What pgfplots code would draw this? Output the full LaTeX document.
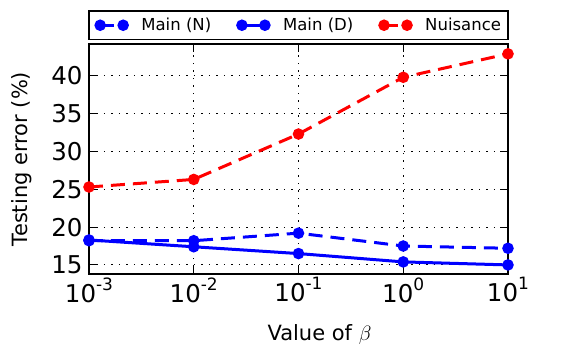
\documentclass[border=0pt]{standalone}
\usepackage{fontspec}
\setmainfont{DejaVu Sans}
\usepackage{pgfplots}
\pgfplotsset{compat=1.18}
\newcommand{\tp}[1]{10\raisebox{12pt}{\fontsize{17}{17}\selectfont #1}}
\begin{document}
\begin{tikzpicture}
\begin{axis}[
 scale only axis, width=419pt, height=230pt,
 xmode=log, log basis x=10,
 xmin=1e-3, xmax=10, ymin=13.8, ymax=44.2,
 xtick={1e-3,1e-2,1e-1,1,10},
 xticklabels={\tp{-3},\tp{-2},\tp{-1},\tp{0},\tp{1}},
 ytick={15,20,25,30,35,40},
 /pgf/number format/assume math mode=true,
 tick label style={font=\fontsize{24.5}{28}\selectfont},
 yticklabel style={xshift=-3pt},
 label style={font=\fontsize{21}{24}\selectfont},
 xlabel={Value of $\beta$},
 ylabel={Testing error (\%)},
 xlabel style={at={(axis description cs:0.55,-0.265)}, anchor=center},
 ylabel style={at={(axis description cs:-0.16,0.5)}, anchor=center},
 axis line style={line width=1.8pt},
 grid=major,
 major grid style={black, line width=1pt, dash pattern=on 1.5pt off 6pt},
 major tick length=8pt, minor tick length=4pt,
 every tick/.style={black, line width=1pt},
 legend columns=3,
 legend style={at={(0.5,1)}, yshift=4pt, anchor=south, draw=black, line width=1.5pt,
   font=\fontsize{16.5}{19}\selectfont,
   nodes={inner sep=0pt},
   /tikz/every even column/.append style={column sep=26.5pt},
   inner xsep=7pt, inner ysep=7pt},
 legend image code/.code={\draw[#1] plot coordinates {(0pt,0pt) (23pt,0pt)};},
]
\addplot[blue, line width=3pt, dash pattern=on 14pt off 8pt, mark=*, mark size=4.2pt, mark options={solid}]
 coordinates {(0.001,18.2) (0.01,18.2) (0.1,19.2) (1,17.5) (10,17.2)};
\addlegendentry{\hspace*{14pt}Main (N)}
\addplot[blue, line width=3pt, mark=*, mark size=4.2pt]
 coordinates {(0.001,18.3) (0.01,17.4) (0.1,16.5) (1,15.4) (10,15.0)};
\addlegendentry{\hspace*{14pt}Main (D)}
\addplot[red, line width=3pt, dash pattern=on 14pt off 8pt, mark=*, mark size=4.2pt, mark options={solid}]
 coordinates {(0.001,25.3) (0.01,26.3) (0.1,32.3) (1,39.8) (10,42.9)};
\addlegendentry{\hspace*{14pt}Nuisance}
\end{axis}
\path (current axis.south west) ++(-89pt,-72pt) rectangle ++(565pt,346pt);
\end{tikzpicture}
\end{document}
